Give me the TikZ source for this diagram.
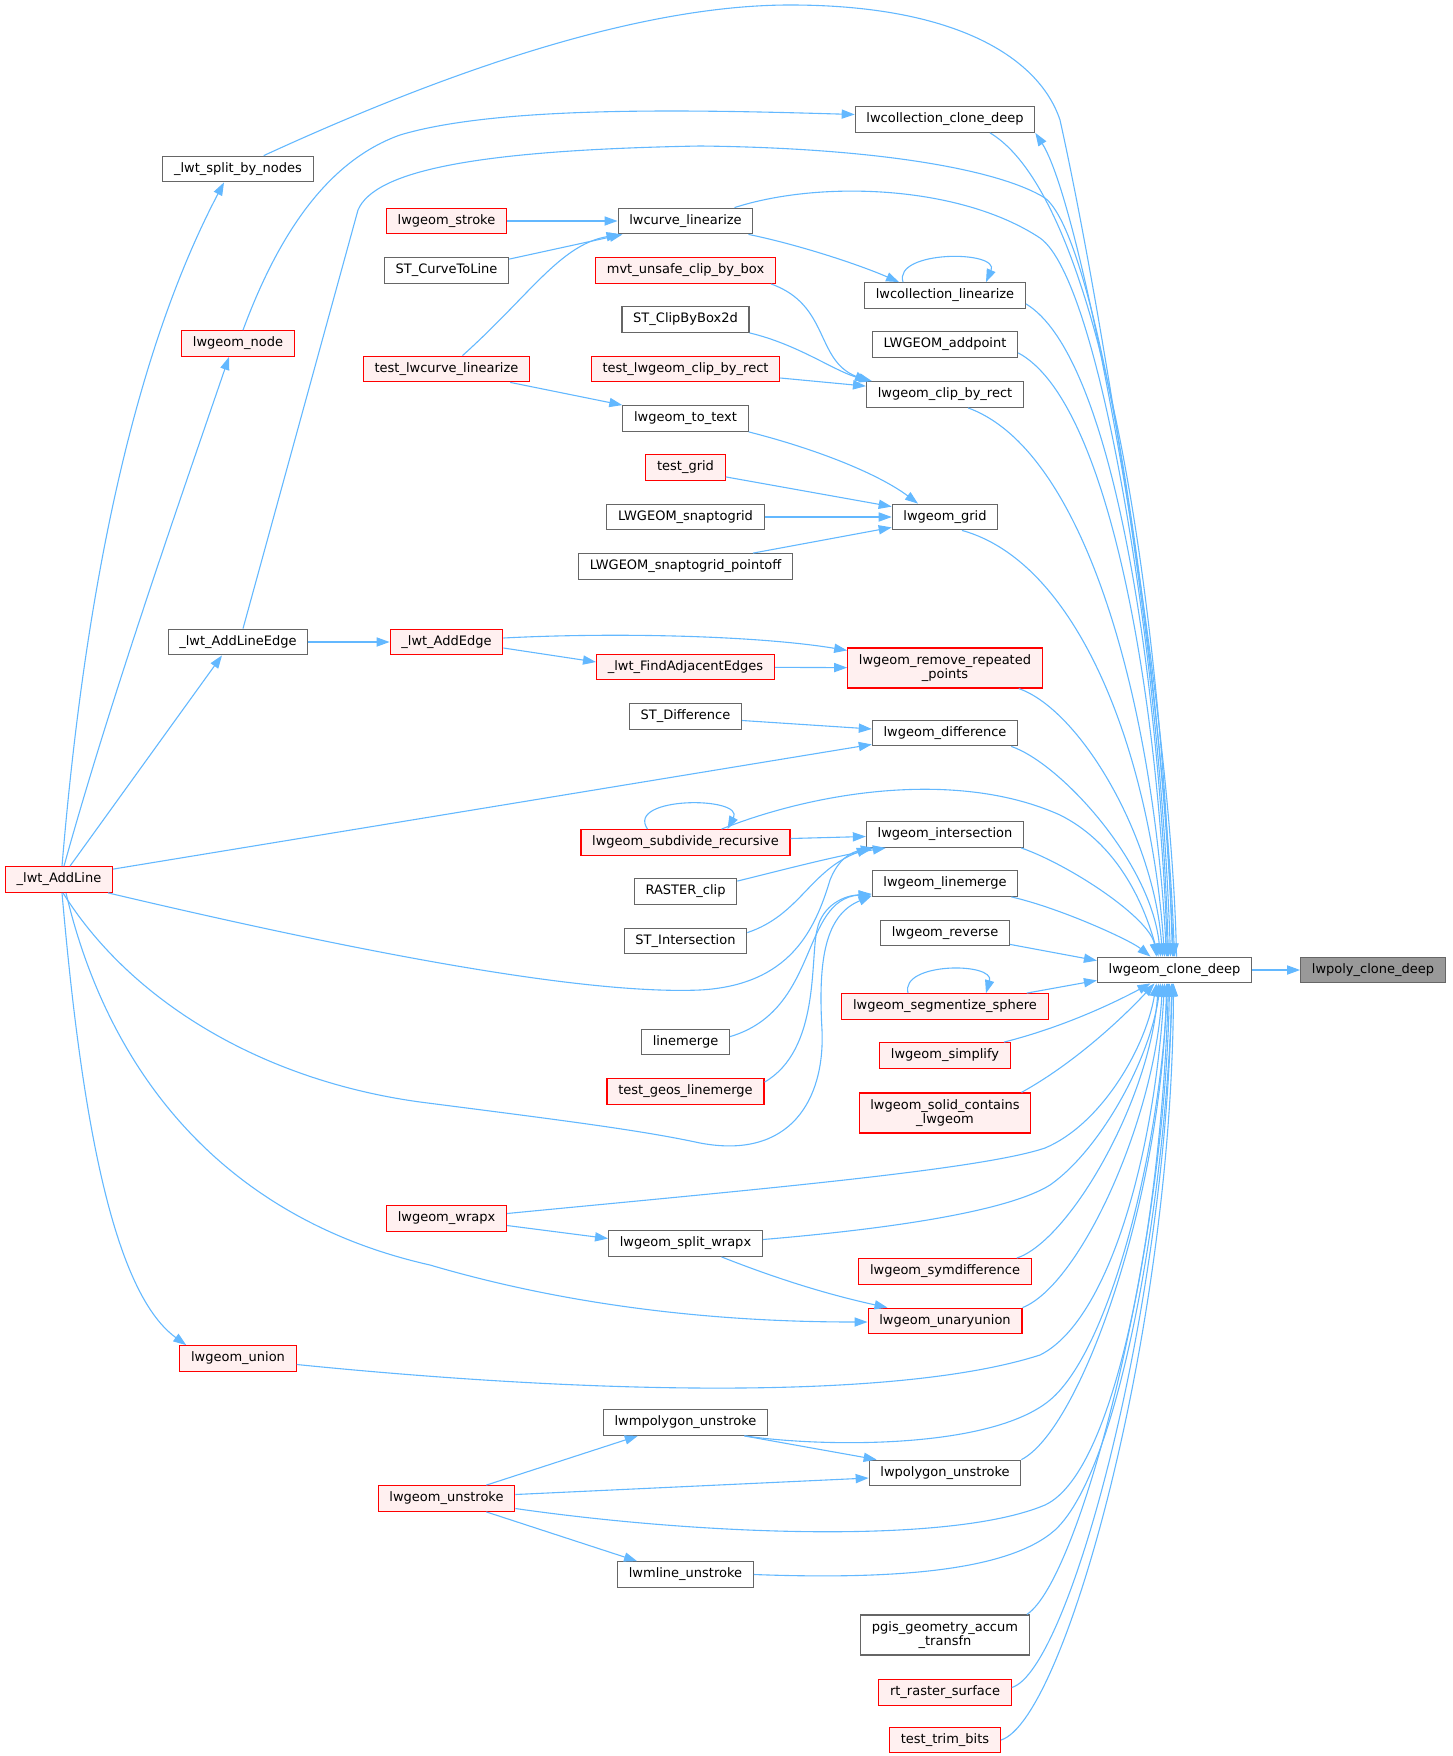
\documentclass[tikz,border=0pt]{standalone}
\usepackage{fontspec}
\setmainfont{DejaVu Sans}
\usetikzlibrary{arrows.meta,calc}
\definecolor{edgeblue}{HTML}{63B8FF}
\definecolor{nodegrey}{HTML}{666666}
\definecolor{focusgrey}{HTML}{999999}
\definecolor{truncfill}{HTML}{FFF0F0}

\begin{document}
\begin{tikzpicture}[
  x=0.5pt, y=-0.5pt,
  font=\fontsize{6.5}{7.2}\selectfont,
  fn/.style={draw=nodegrey, fill=white, line width=0.6pt, inner xsep=5.6pt, inner ysep=2.2pt, minimum height=12.8pt, align=center},
  trunc/.style={fn, draw=red, fill=truncfill},
  focus/.style={fn, fill=focusgrey},
  two/.style={minimum height=20pt},
  call/.style={draw=edgeblue, line width=0.55pt, -{Triangle[length=6.5pt,width=4.6pt]}},
]
\useasboundingbox (0,0) rectangle (1452,1756);

% ---------------- focus ----------------
\node[fn] (clone) at (1174.5,970) {lwgeom\_clone\_deep};
\node[focus] (poly) at (1373,970) {lwpoly\_clone\_deep};

% ---------------- direct callers ----------------
\node[fn] (colldeep) at (945,119.5) {lwcollection\_clone\_deep};
\node[fn] (colllin) at (945,295.5) {lwcollection\_linearize};
\node[fn] (addpoint) at (945,344.5) {LWGEOM\_addpoint};
\node[fn] (clip) at (945,394.5) {lwgeom\_clip\_by\_rect};
\node[fn] (grid) at (945,517) {lwgeom\_grid};
\node[trunc, two] (rrp) at (945,668) {lwgeom\_remove\_repeated\\\_points};
\node[fn] (diff) at (945,733) {lwgeom\_difference};
\node[fn] (inter) at (945,834.5) {lwgeom\_intersection};
\node[fn] (lmerge) at (945,883.5) {lwgeom\_linemerge};
\node[fn] (rev) at (945,933) {lwgeom\_reverse};
\node[trunc] (seg) at (945,1006.5) {lwgeom\_segmentize\_sphere};
\node[trunc] (simp) at (945,1055.5) {lwgeom\_simplify};
\node[trunc, two] (solid) at (945,1113) {lwgeom\_solid\_contains\\\_lwgeom};
\node[trunc] (symd) at (945,1271.5) {lwgeom\_symdifference};
\node[trunc] (unary) at (945,1321) {lwgeom\_unaryunion};
\node[fn] (polyun) at (945,1473) {lwpolygon\_unstroke};
\node[fn, two] (pgis) at (945,1635) {pgis\_geometry\_accum\\\_transfn};
\node[trunc] (rtras) at (945,1692.5) {rt\_raster\_surface};
\node[trunc] (trim) at (945,1740) {test\_trim\_bits};

% ---------------- second rank ----------------
\node[fn] (curvelin) at (685.5,221) {lwcurve\_linearize};
\node[trunc] (mvt) at (685.5,270.5) {mvt\_unsafe\_clip\_by\_box};
\node[fn] (stclip) at (685.5,319.5) {ST\_ClipByBox2d};
\node[trunc] (tclip) at (685.5,369) {test\_lwgeom\_clip\_by\_rect};
\node[fn] (totext) at (685.5,418.5) {lwgeom\_to\_text};
\node[trunc] (tgrid) at (685.5,467.5) {test\_grid};
\node[fn] (snap) at (685.5,517) {LWGEOM\_snaptogrid};
\node[fn] (snapoff) at (685.5,566.5) {LWGEOM\_snaptogrid\_pointoff};
\node[trunc] (adjedge) at (685.5,667) {\_lwt\_FindAdjacentEdges};
\node[fn] (stdiff) at (685.5,716.5) {ST\_Difference};
\node[trunc] (subdiv) at (685.5,842.5) {lwgeom\_subdivide\_recursive};
\node[fn] (rclip) at (685.5,891.5) {RASTER\_clip};
\node[fn] (stinter) at (685.5,941) {ST\_Intersection};
\node[fn] (linemerge) at (685.5,1042) {linemerge};
\node[trunc] (tgeos) at (685.5,1091.5) {test\_geos\_linemerge};
\node[fn] (splitwx) at (685.5,1243.5) {lwgeom\_split\_wrapx};
\node[fn] (mpolyun) at (685.5,1422.5) {lwmpolygon\_unstroke};
\node[fn] (mlineun) at (685.5,1574.5) {lwmline\_unstroke};

% ---------------- third rank ----------------
\node[trunc] (stroke) at (446.5,221) {lwgeom\_stroke};
\node[fn] (curvetoline) at (446.5,270.5) {ST\_CurveToLine};
\node[trunc] (tcurvelin) at (446.5,369) {test\_lwcurve\_linearize};
\node[trunc] (addedge) at (446.5,642) {\_lwt\_AddEdge};
\node[trunc] (wrapx) at (446.5,1218.5) {lwgeom\_wrapx};
\node[trunc] (unstroke) at (446.5,1498.5) {lwgeom\_unstroke};

% ---------------- fourth rank ----------------
\node[fn] (splitnodes) at (238,169) {\_lwt\_split\_by\_nodes};
\node[trunc] (lwnode) at (238,343.5) {lwgeom\_node};
\node[fn] (addlineedge) at (238,642) {\_lwt\_AddLineEdge};
\node[trunc] (union) at (238,1358.5) {lwgeom\_union};
\node[trunc] (addline) at (59,879.5) {\_lwt\_AddLine};

% ---------------- into lwgeom_clone_deep ----------------
\draw[call] (clone) -- (poly);
\draw[call] ($(colldeep.south)+(45,0)$) .. controls (1099,198) and (1161,586) .. ($(clone.north)+(-2,0)$);
\draw[call] ($(clone.north)+(2,0)$) .. controls (1172,700) and (1085,210) .. (colldeep.south east);
\draw[call] ($(colllin.south east)+(0,-5)$) .. controls (1111,355) and (1159,663) .. ($(clone.north)+(-6,0)$);
\draw[call] ($(addpoint.south east)+(0,-5)$) .. controls (1107,400) and (1158,685) .. ($(clone.north)+(-7,0)$);
\draw[call] ($(clip.south)+(23,0)$) .. controls (1087,451) and (1154,710) .. ($(clone.north)+(-8,0)$);
\draw[call] ($(grid.south)+(17,0)$) .. controls (1083,564) and (1152,765) .. ($(clone.north)+(-10,0)$);
\draw[call] ($(rrp.south east)+(-24,0)$) .. controls (1080,710) and (1154,836) .. ($(clone.north)+(-12,0)$);
\draw[call] ($(diff.south east)+(-7,0)$) .. controls (1060,763) and (1151,862) .. ($(clone.north)+(-14,0)$);
\draw[call] ($(inter.south east)+(-3,0)$) .. controls (1070,865) and (1150,918) .. ($(clone.north)+(-18,0)$);
\draw[call] ($(lmerge.south east)+(-7,0)$) .. controls (1060,908) and (1130,940) .. ($(clone.north)+(-24,0)$);
\draw[call] ($(splitnodes.north east)+(-50,0)$) .. controls (450,70) and (640,5) .. (790,5)
  .. controls (960,5) and (1040,60) .. (1060,120) .. controls (1100,300) and (1165,700) .. (clone.north);
\draw[call] ($(addlineedge.north)+(5,0)$) -- (358,210) .. controls (375,170) and (480,150) .. (700,146)
  .. controls (880,148) and (1000,170) .. (1045,198) .. controls (1100,240) and (1160,650) .. ($(clone.north)+(-1,0)$);
\draw[call] ($(curvelin.north east)+(-19,0)$) .. controls (820,180) and (960,185) .. (1040,238)
  .. controls (1100,280) and (1160,650) .. ($(clone.north)+(-4,0)$);
\draw[call] ($(subdiv.north)+(36,0)$) .. controls (820,790) and (960,770) .. (1060,815)
  .. controls (1110,840) and (1140,890) .. ($(clone.north)+(-16,0)$);
\draw[call] ($(rev.south east)+(0,-2)$) -- ($(clone.north west)+(0,4)$);
\draw[call] ($(seg.north east)+(-22,0)$) -- ($(clone.south west)+(0,-3)$);
\draw[call] ($(simp.north east)+(-7,0)$) .. controls (1060,1028) and (1110,1005) .. ($(clone.south)+(-24,0)$);
\draw[call] ($(solid.north east)+(-10,0)$) .. controls (1080,1060) and (1130,1010) .. ($(clone.south)+(-20,0)$);
\draw[call] ($(symd.north east)+(-15,0)$) .. controls (1070,1240) and (1150,1100) .. ($(clone.south)+(-16,0)$);
\draw[call] (unary.north east) .. controls (1080,1285) and (1155,1120) .. ($(clone.south)+(-12,0)$);
\draw[call] (polyun.north east) .. controls (1080,1430) and (1162,1200) .. ($(clone.south)+(-8,0)$);
\draw[call] ($(pgis.north east)+(-3,0)$) .. controls (1080,1580) and (1165,1250) .. ($(clone.south)+(-5,0)$);
\draw[call] ($(rtras.east)+(0,-5)$) .. controls (1070,1670) and (1168,1300) .. ($(clone.south)+(-3,0)$);
\draw[call] (trim.east) .. controls (1065,1720) and (1172,1330) .. ($(clone.south)+(-1,0)$);
\draw[call] ($(wrapx.east)+(0,-5)$) .. controls (750,1190) and (980,1170) .. (1045,1148)
  .. controls (1100,1125) and (1145,1050) .. ($(clone.south)+(-18,0)$);
\draw[call] ($(splitwx.east)+(0,-4)$) .. controls (900,1228) and (1010,1210) .. (1050,1185)
  .. controls (1100,1150) and (1150,1060) .. ($(clone.south)+(-14,0)$);
\draw[call] ($(union.east)+(0,6)$) .. controls (600,1395) and (900,1400) .. (1040,1355)
  .. controls (1110,1320) and (1155,1150) .. ($(clone.south)+(-10,0)$);
\draw[call] ($(mpolyun.south east)+(-23,0)$) .. controls (820,1447) and (990,1450) .. (1050,1400)
  .. controls (1110,1350) and (1160,1150) .. ($(clone.south)+(-7,0)$);
\draw[call] ($(unstroke.east)+(0,10)$) .. controls (700,1535) and (950,1545) .. (1045,1505)
  .. controls (1120,1470) and (1162,1200) .. ($(clone.south)+(-6,0)$);
\draw[call] (mlineun.east) .. controls (900,1580) and (1010,1570) .. (1055,1530)
  .. controls (1120,1470) and (1165,1200) .. ($(clone.south)+(-2,0)$);

% ---------------- self calls ----------------
\draw[call] ($(colllin.north)+(-42,0)$) .. controls (893,250) and (1000,250) .. ($(colllin.north)+(41,0)$);
\draw[call] ($(subdiv.north)+(-38,0)$) .. controls (625,796) and (745,796) .. ($(subdiv.north)+(42,0)$);
\draw[call] ($(seg.north)+(-37,0)$) .. controls (900,962) and (995,962) .. ($(seg.north)+(41,0)$);

% ---------------- upper callers ----------------
\draw[call] (stroke) -- (curvelin);
\draw[call] ($(curvetoline.north east)+(0,2)$) -- ($(curvelin.south west)+(5,0)$);
\draw[call] ($(tcurvelin.north)+(16,0)$) .. controls (530,295) and (560,245) .. ($(curvelin.south west)+(2,0)$);
\draw[call] ($(tcurvelin.south east)+(-20,0)$) -- (totext.north west);
\draw[call] ($(curvelin.south east)+(-5,0)$) .. controls (800,245) and (860,265) .. ($(colllin.north west)+(35,0)$);
\draw[call] ($(mvt.south east)+(-5,0)$) .. controls (830,305) and (815,360) .. ($(clip.north west)+(2,0)$);
\draw[call] (stclip.south east) .. controls (800,345) and (835,372) .. ($(clip.north west)+(6,0)$);
\draw[call] ($(tclip.east)+(0,9)$) -- ($(clip.north west)+(0,5)$);
\draw[call] (totext.south east) .. controls (820,450) and (880,475) .. ($(grid.north)+(-27,0)$);
\draw[call] ($(tgrid.south east)+(0,-4)$) -- ($(grid.north west)+(0,3)$);
\draw[call] (snap) -- (grid);
\draw[call] ($(snapoff.north east)+(-40,0)$) -- ($(grid.south west)+(0,-3)$);
\draw[call] ($(lwnode.north)+(5,0)$) .. controls (280,230) and (330,160) .. (400,135)
  .. controls (500,105) and (700,110) .. ($(colldeep.west)+(0,-5)$);

% ---------------- topology callers ----------------
\draw[call] (addlineedge) -- (addedge);
\draw[call] ($(addedge.east)+(0,-4)$) .. controls (620,632) and (760,636) .. ($(rrp.north west)+(0,3)$);
\draw[call] ($(addedge.east)+(0,6)$) -- ($(adjedge.west)+(0,-5)$);
\draw[call] (adjedge) -- (rrp);
\draw[call] ($(stdiff.east)+(0,4)$) -- ($(diff.west)+(0,-4)$);
\draw[call] ($(addline.north)+(3,0)$) .. controls (80,650) and (120,380) .. ($(splitnodes.south)+(-14,0)$);
\draw[call] ($(addline.north)+(5,0)$) .. controls (110,700) and (180,500) .. ($(lwnode.south)+(-9,0)$);
\draw[call] ($(addline.north)+(11,0)$) -- ($(addlineedge.south)+(-16,0)$);
\draw[call] ($(addline.north east)+(0,3)$) -- ($(diff.south west)+(0,-2)$);
\draw[call] ($(addline.south east)+(-5,0)$) .. controls (350,950) and (580,995) .. (700,990)
  .. controls (790,985) and (815,930) .. (830,880) .. controls (838,860) and (850,852) .. ($(inter.south west)+(8,0)$);
\draw[call] ($(addline.south)+(4,0)$) .. controls (130,1000) and (260,1080) .. (420,1102)
  .. controls (560,1120) and (640,1130) .. (700,1143) .. controls (790,1160) and (825,1100) .. (822,1030)
  .. controls (818,960) and (825,915) .. ($(lmerge.south west)+(0,-1)$);
\draw[call] ($(addline.south)+(3,0)$) .. controls (80,1100) and (110,1290) .. ($(union.north west)+(7,0)$);
\draw[call] ($(addline.south)+(7,0)$) .. controls (110,1080) and (230,1220) .. (430,1265)
  .. controls (600,1315) and (760,1322) .. ($(unary.west)+(0,1)$);

% ---------------- intersection / linemerge ----------------
\draw[call] ($(subdiv.east)+(0,-4)$) -- ($(inter.west)+(0,2)$);
\draw[call] ($(rclip.north east)+(0,3)$) .. controls (790,868) and (840,855) .. ($(inter.south west)+(20,0)$);
\draw[call] ($(stinter.north east)+(0,5)$) .. controls (800,915) and (810,870) .. ($(inter.south west)+(4,0)$);
\draw[call] ($(linemerge.north east)+(0,8)$) .. controls (820,1010) and (800,900) .. ($(lmerge.south west)+(0,-3)$);
\draw[call] ($(tgeos.north east)+(0,4)$) .. controls (820,1050) and (810,960) .. (817,930)
  .. controls (822,905) and (845,895) .. ($(lmerge.south west)+(0,-2)$);

% ---------------- lower callers ----------------
\draw[call] ($(wrapx.east)+(0,7)$) -- ($(splitwx.west)+(0,-5)$);
\draw[call] ($(splitwx.south)+(36,0)$) .. controls (780,1280) and (830,1295) .. ($(unary.north west)+(20,0)$);
\draw[call] ($(unstroke.north east)+(-29,0)$) -- ($(mpolyun.south west)+(35,0)$);
\draw[call] ($(unstroke.east)+(0,-4)$) -- ($(polyun.west)+(0,5)$);
\draw[call] ($(mpolyun.south east)+(-24,0)$) -- ($(polyun.north west)+(8,0)$);
\draw[call] ($(unstroke.south east)+(-29,0)$) -- ($(mlineun.north west)+(20,0)$);
\end{tikzpicture}
\end{document}
